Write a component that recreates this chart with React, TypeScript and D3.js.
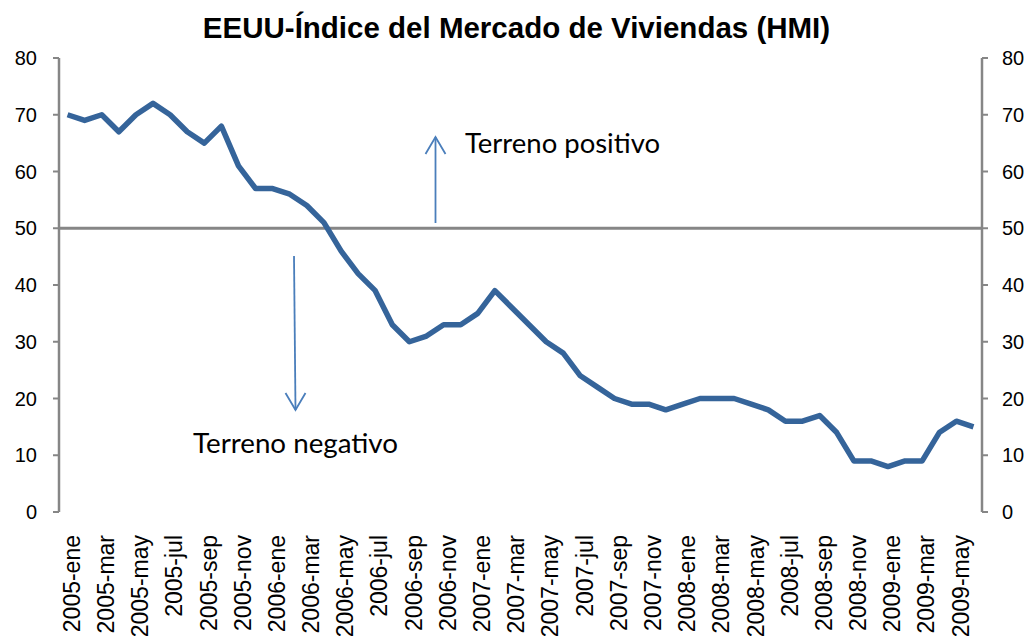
import React from "react";
import * as d3 from "d3";

const months = ["ene", "feb", "mar", "abr", "may", "jun", "jul", "ago", "sep", "oct", "nov", "dic"];
const categories: string[] = [];
for (let y = 2005; y <= 2009; y++) {
  for (let m = 0; m < 12; m++) {
    if (y === 2009 && m > 5) break;
    categories.push(`${y}-${months[m]}`);
  }
}

const hmiValues = [
  70, 69, 70, 67, 70, 72, 70, 67, 65, 68, 61, 57,
  57, 56, 54, 51, 46, 42, 39, 33, 30, 31, 33, 33,
  35, 39, 36, 33, 30, 28, 24, 22, 20, 19, 19, 18,
  19, 20, 20, 20, 19, 18, 16, 16, 17, 14, 9, 9,
  8, 9, 9, 14, 16, 15,
];

const yTicks = [0, 10, 20, 30, 40, 50, 60, 70, 80];
const title = "EEUU-Índice del Mercado de Viviendas (HMI)";
const positiveLabel = "Terreno positivo";
const negativeLabel = "Terreno negativo";
const crossValue = 50;

export default function App() {
  const W = 1032, H = 637;
  const left = 59, right = 982, top = 58, bottom = 512;

  const x = d3.scaleBand<string>().domain(categories).range([left, right]);
  const cx = (c: string) => (x(c) as number) + x.bandwidth() / 2;
  const y = d3.scaleLinear().domain([0, 80]).range([bottom, top]);

  const line = d3
    .line<number>()
    .x((_, i) => cx(categories[i]))
    .y((d) => y(d));

  const axisColor = "#868686";
  const arrowColor = "#4a7ebb";
  const tickLabels = categories.filter((_, i) => i % 2 === 0);

  const upX = 435.5, upTop = 137, upBottom = 223;
  const dnX0 = 294, dnTop = 256, dnX1 = 295.5, dnBottom = 410;

  return (
    <svg
      width={W}
      height={H}
      style={{ position: "absolute", left: 0, top: 0, background: "#fff" }}
    >
      <text
        x={516.5}
        y={38}
        textAnchor="middle"
        fontFamily="'Liberation Sans', Arial, sans-serif"
        fontWeight="bold"
        fontSize={29.5}
        fill="#000"
      >
        {title}
      </text>

      {/* left axis */}
      <line x1={left} x2={left} y1={top} y2={bottom} stroke={axisColor} strokeWidth={2.5} />
      {yTicks.map((t) => (
        <g key={"l" + t}>
          <line x1={left - 6} x2={left} y1={y(t)} y2={y(t)} stroke={axisColor} strokeWidth={2} />
          <text
            x={37}
            y={y(t)}
            dy="0.36em"
            textAnchor="end"
            fontFamily="'Liberation Sans', Arial, sans-serif"
            fontSize={20}
            fill="#000"
          >
            {t}
          </text>
        </g>
      ))}

      {/* right axis */}
      <line x1={right} x2={right} y1={top} y2={bottom} stroke={axisColor} strokeWidth={2.5} />
      {yTicks.map((t) => (
        <g key={"r" + t}>
          <line x1={right} x2={right + 6} y1={y(t)} y2={y(t)} stroke={axisColor} strokeWidth={2} />
          <text
            x={1002}
            y={y(t)}
            dy="0.36em"
            textAnchor="start"
            fontFamily="'Liberation Sans', Arial, sans-serif"
            fontSize={20}
            fill="#000"
          >
            {t}
          </text>
        </g>
      ))}

      {/* horizontal axis crossing at 50 */}
      <line x1={left} x2={right} y1={y(crossValue)} y2={y(crossValue)} stroke={axisColor} strokeWidth={3} />

      {/* category labels */}
      {tickLabels.map((c) => (
        <text
          key={c}
          transform={`translate(${cx(c) + 4},535) rotate(-90)`}
          dy="0.36em"
          textAnchor="end"
          fontFamily="'Liberation Sans', Arial, sans-serif"
          fontSize={23}
          fill="#000"
        >
          {c}
        </text>
      ))}

      {/* data line */}
      <path
        d={line(hmiValues) || ""}
        fill="none"
        stroke="#35649a"
        strokeWidth={5.5}
        strokeLinejoin="round"
      />

      {/* arrows */}
      <g stroke={arrowColor} strokeWidth={1.8} fill="none">
        <line x1={upX} x2={upX} y1={upBottom} y2={upTop} />
        <polyline points={`${upX - 10},${upTop + 17} ${upX},${upTop} ${upX + 10},${upTop + 17}`} />
        <line x1={dnX0} x2={dnX1} y1={dnTop} y2={dnBottom} />
        <polyline points={`${dnX1 - 10},${dnBottom - 17} ${dnX1},${dnBottom} ${dnX1 + 10},${dnBottom - 17}`} />
      </g>

      <text
        x={465}
        y={153}
        fontFamily="Lato, 'Open Sans', sans-serif"
        fontSize={26}
        textLength={195}
        lengthAdjust="spacingAndGlyphs"
        fill="#000"
      >
        {positiveLabel}
      </text>
      <text
        x={193}
        y={453}
        fontFamily="Lato, 'Open Sans', sans-serif"
        fontSize={26}
        textLength={205}
        lengthAdjust="spacingAndGlyphs"
        fill="#000"
      >
        {negativeLabel}
      </text>
    </svg>
  );
}
